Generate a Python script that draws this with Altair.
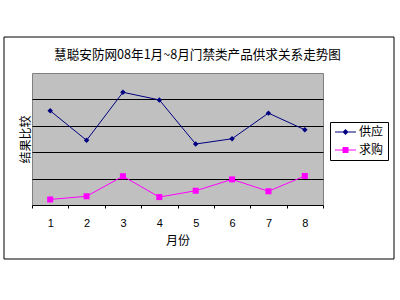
import altair as alt
import pandas as pd

months = ["1", "2", "3", "4", "5", "6", "7", "8"]
supply = [35.7, 24.5, 42.7, 39.8, 23.1, 25.1, 34.8, 28.5]
demand = [2.1, 3.3, 10.9, 3.0, 5.4, 9.7, 5.2, 11.0]
series = ["供应", "求购"]
series_colors = ["#000080", "#FF00FF"]
grid_values = [10, 20, 30, 40]

CJK = "Noto Sans CJK SC"

wide = pd.DataFrame({"month": months, "supply": supply, "demand": demand})
long = pd.DataFrame({
    "month": months * 2,
    "value": supply + demand,
    "series": [series[0]] * len(months) + [series[1]] * len(months),
})

xscale = alt.Scale(type="band", paddingInner=0, paddingOuter=0)
yscale = alt.Scale(domain=[0, 50], nice=False, zero=True)

xenc = alt.X(
    "month:O",
    scale=xscale,
    sort=months,
    axis=alt.Axis(
        title="月份", labelAngle=0, tickBand="extent", tickSize=3,
        tickColor="black", domainColor="black", labelFont="Liberation Sans",
        labelFontSize=11, labelPadding=9, titleFont=CJK, titleFontSize=12,
        titleFontWeight="normal", titlePadding=7, labelColor="black", titleColor="black",
    ),
)

def yenc(field):
    return alt.Y(
        f"{field}:Q",
        scale=yscale,
        axis=alt.Axis(
            title="结果比较", labels=False, ticks=False, domain=False,
            grid=True, gridColor="black", gridWidth=1, gridOpacity=1, values=grid_values,
            titleFont=CJK, titleFontSize=12, titleFontWeight="normal", titlePadding=0,
            titleColor="black",
        ),
    )

frame = alt.Chart(pd.DataFrame({"a": [0]})).mark_rect(
    filled=False, stroke="black", strokeWidth=1, clip=False
).encode(
    x=alt.value(-28), x2=alt.value(362), y=alt.value(-36), y2=alt.value(186)
)

base = alt.Chart(wide)
line_s = base.mark_line(color=series_colors[0], strokeWidth=1).encode(x=xenc, y=yenc("supply"))
pt_s = base.mark_point(shape="diamond", filled=True, size=30, color=series_colors[0], opacity=1).encode(x=xenc, y=yenc("supply"))
line_d = base.mark_line(color=series_colors[1], strokeWidth=1).encode(x=xenc, y=yenc("demand"))
pt_d = base.mark_point(shape="square", filled=True, size=36, color=series_colors[1], opacity=1).encode(x=xenc, y=yenc("demand"))

legend_paths = [
    "M-1,-0.1H3.2V0.1H-1Z M1.1,-0.6L1.7,0L1.1,0.6L0.5,0Z",
    "M-1,-0.1H3.2V0.1H-1Z M0.5,-0.6H1.7V0.6H0.5Z",
]

legend_layer = alt.Chart(long).transform_filter("false").mark_point(filled=True, opacity=1).encode(
    x=xenc,
    y=yenc("value"),
    color=alt.Color("series:N", scale=alt.Scale(domain=series, range=series_colors), legend=alt.Legend(
        title=None, orient="none", legendX=298, legendY=49, symbolSize=100, symbolOpacity=1,
        labelFont=CJK, labelFontSize=12, labelColor="black", labelOffset=13,
        strokeColor="black", fillColor="white", padding=4, rowPadding=6,
    )),
    shape=alt.Shape("series:N", scale=alt.Scale(domain=series, range=legend_paths)),
)

chart = alt.layer(frame, line_s, line_d, pt_s, pt_d, legend_layer).properties(
    width=291,
    height=132,
    autosize=alt.AutoSizeParams(type="none"),
    padding={"left": 32, "top": 73, "right": 77, "bottom": 95},
    title=alt.Title(
        "慧聪安防网08年1月~8月门禁类产品供求关系走势图",
        font=CJK, fontSize=12.6, fontWeight="normal", color="black", offset=-25, dx=20,
    ),
    background="white",
).configure_view(
    fill="#c0c0c0", stroke="#808080", strokeWidth=1
)

chart.save("out.html", embed_options={"renderer": "svg", "actions": False})
